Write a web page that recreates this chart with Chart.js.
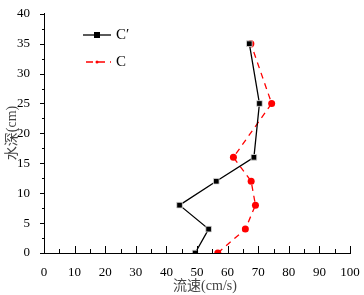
<!DOCTYPE html>
<html><head><meta charset="utf-8">
<script src="https://cdn.jsdelivr.net/npm/chart.js@4/dist/chart.umd.min.js"></script>
<style>html,body{margin:0;padding:0;background:#fff;}#wrap{width:364px;height:295px;}</style>
</head><body><div id="wrap"><canvas id="c" width="364" height="295"></canvas></div>
<script>
const depths = [0, 4, 8, 12, 16, 25, 35];
const velocityCprime = [49.4, 53.8, 44.3, 56.3, 68.6, 70.4, 67.1];
const velocityC = [56.8, 65.8, 69.1, 67.7, 61.9, 74.4, 67.6];
const seriesNames = ["C\u2032", "C"];
const xTitle = "流速(cm/s)";
const yTitle = "水深(cm)";

const serif = "'Liberation Serif','Noto Sans CJK SC',serif";

const tickPlugin = {
  id: 'ticksInOut',
  afterDraw(chart) {
    const ctx = chart.ctx, xs = chart.scales.x, ys = chart.scales.y;
    const a = chart.chartArea;
    ctx.save();
    ctx.strokeStyle = '#000'; ctx.lineWidth = 1;
    for (let v = 0; v <= 100; v += 5) {
      const px = Math.round(xs.getPixelForValue(v)) + 0.5;
      const len = (v % 10 === 0) ? 7 : 4;
      ctx.beginPath(); ctx.moveTo(px, a.bottom); ctx.lineTo(px, a.bottom - len); ctx.stroke();
    }
    for (let v = 0; v <= 40; v += 2.5) {
      const py = Math.round(ys.getPixelForValue(v)) + 0.5;
      const len = (v % 5 === 0) ? 4 : 2;
      ctx.beginPath(); ctx.moveTo(a.left, py); ctx.lineTo(a.left - len, py); ctx.stroke();
    }
    // axis titles
    ctx.fillStyle = '#444'; ctx.font = "14px " + serif;
    ctx.textAlign = 'center'; ctx.textBaseline = 'middle';
    ctx.fillText(xTitle, 205, 286);
    ctx.save(); ctx.translate(12, 133); ctx.rotate(-Math.PI / 2);
    ctx.fillText(yTitle, 0, 0); ctx.restore();
    // legend
    ctx.textAlign = 'left';
    ctx.lineWidth = 1.3;
    ctx.strokeStyle = '#000';
    ctx.beginPath(); ctx.moveTo(83, 35); ctx.lineTo(111, 35); ctx.stroke();
    ctx.fillStyle = '#000'; ctx.fillRect(94, 32, 6, 6);
    ctx.strokeStyle = '#ff0000'; ctx.setLineDash([7, 5]);
    ctx.beginPath(); ctx.moveTo(86, 62); ctx.lineTo(111, 62); ctx.stroke();
    ctx.setLineDash([]);
    ctx.fillStyle = '#ff0000'; ctx.beginPath(); ctx.arc(97, 62, 1.5, 0, Math.PI * 2); ctx.fill();
    ctx.fillStyle = '#000'; ctx.font = "15px " + serif; ctx.textBaseline = 'middle';
    ctx.fillText(seriesNames[0], 116, 35);
    ctx.fillText(seriesNames[1], 116, 62);
    ctx.restore();
  }
};

new Chart(document.getElementById('c'), {
  type: 'scatter',
  data: {
    datasets: [
      {
        label: seriesNames[0],
        data: depths.map((d, i) => ({x: velocityCprime[i], y: d})),
        showLine: true, borderColor: '#000', borderWidth: 1.3,
        pointStyle: 'rect', pointRadius: 4, pointBackgroundColor: '#000', pointBorderColor: '#ddd', pointBorderWidth: 0.8
      },
      {
        label: seriesNames[1],
        data: depths.map((d, i) => ({x: velocityC[i], y: d})),
        showLine: true, borderColor: '#ff0000', borderWidth: 1.3, borderDash: [6, 5],
        pointStyle: 'circle', pointRadius: 3.5, pointBackgroundColor: '#ff0000', pointBorderColor: '#ff0000', pointBorderWidth: 0
      }
    ]
  },
  options: {
    responsive: false, animation: false, devicePixelRatio: 1,
    layout: {padding: {top: 9, right: 14, left: 0, bottom: 0}},
    plugins: {legend: {display: false}, tooltip: {enabled: false}},
    scales: {
      x: {
        type: 'linear', min: 0, max: 100,
        afterFit: s => { s.height = 42; },
        grid: {display: false}, border: {display: true, color: '#000', width: 1},
        ticks: {stepSize: 10, color: '#000', font: {family: serif, size: 13}, padding: 4, maxRotation: 0},
        title: {display: false}
      },
      y: {
        type: 'linear', min: 0, max: 40,
        afterFit: s => { s.width = 44; },
        grid: {display: false}, border: {display: true, color: '#000', width: 1},
        ticks: {stepSize: 5, color: '#000', font: {family: serif, size: 13}, padding: 6},
        title: {display: false}
      }
    }
  },
  plugins: [tickPlugin]
});
</script></body></html>
